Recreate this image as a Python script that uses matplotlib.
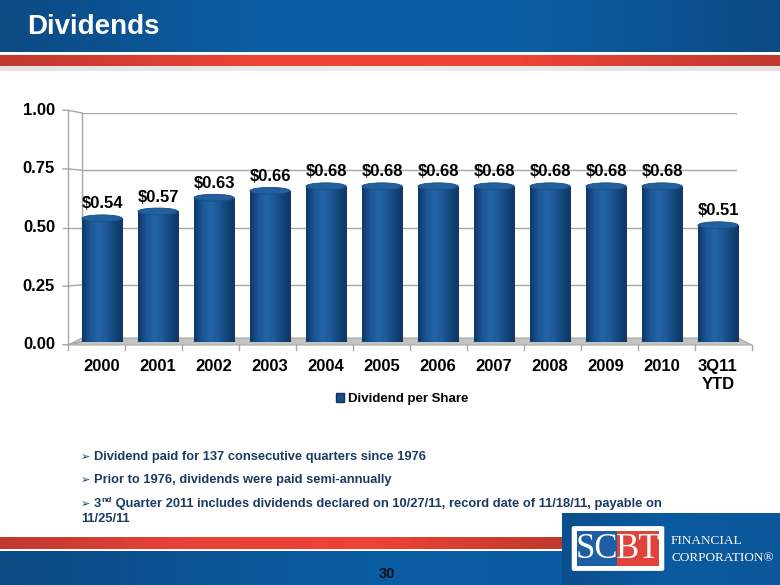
import numpy as np
import matplotlib
matplotlib.use('Agg')
import matplotlib.pyplot as plt
from matplotlib.colors import LinearSegmentedColormap
from matplotlib.patches import Rectangle, Ellipse, Polygon, Patch, FancyBboxPatch
from matplotlib.transforms import blended_transform_factory

# chart data
categories = ['2000', '2001', '2002', '2003', '2004', '2005', '2006',
              '2007', '2008', '2009', '2010', '3Q11\nYTD']
dividends = [0.54, 0.57, 0.63, 0.66, 0.68, 0.68, 0.68, 0.68, 0.68, 0.68, 0.68, 0.51]
y_ticks = [0.0, 0.25, 0.5, 0.75, 1.0]
series_name = 'Dividend per Share'
bullets = ['Dividend paid for 137 consecutive quarters since 1976',
           'Prior to 1976, dividends were paid semi-annually']
last_bullet = ('3', 'nd', ' Quarter 2011 includes dividends declared on 10/27/11, record date of 11/18/11, payable on',
               '11/25/11')

W, H = 780, 585
SANS = ['Liberation Sans', 'DejaVu Sans']
plt.rcParams['font.family'] = SANS


def fx(x):
    return x / W


def fy(y):
    return 1 - y / H


fig = plt.figure(figsize=(7.8, 5.85), dpi=100)
fig.patch.set_facecolor('white')


def band(x0, y0, x1, y1, colors, z=0):
    # horizontal gradient strip in pixel coords (y measured from top)
    a = fig.add_axes([fx(x0), fy(y1), (x1 - x0) / W, (y1 - y0) / H], zorder=z)
    cmap = LinearSegmentedColormap.from_list('b', colors)
    a.imshow(np.linspace(0, 1, 256)[None, :], aspect='auto', cmap=cmap, extent=(0, 1, 0, 1))
    a.set_axis_off()
    return a


# header
band(0, 0, 780, 52, ['#0d4a84', '#0a5ea4', '#0b5fa3', '#0d4a84'])
band(0, 55, 780, 66, ['#c0392f', '#ee4336', '#ee4336', '#c0392f'])
band(0, 66, 780, 71, ['#e2e2e2', '#eeeeee', '#e2e2e2'])
fig.text(fx(27), fy(27), 'Dividends', color='white', fontsize=20, fontweight='bold',
         va='center', ha='left')

# footer
band(0, 537, 562, 549, ['#c0392f', '#e8423a', '#ee4336', '#c0392f'])
band(0, 551, 780, 585, ['#0d4a84', '#0a5ea4', '#0b5aa0'])
band(562, 513, 780, 585, ['#0c4e8c', '#0a5ba0', '#0b5799'], z=2)
fig.text(fx(387), fy(574), '30', color='#111111', fontsize=10.5, fontweight='bold',
         ha='center', va='center', zorder=5)

# logo
fig.patches.append(FancyBboxPatch((fx(574), fy(569)), fx(88), 41 / H, boxstyle='round,pad=0.002',
                                  transform=fig.transFigure, facecolor='white', edgecolor='white', zorder=3))
fig.patches.append(Rectangle((fx(577), fy(566)), fx(40), 35 / H, transform=fig.transFigure,
                             facecolor='#1d5ea6', edgecolor='none', zorder=4))
fig.patches.append(Rectangle((fx(617), fy(566)), fx(42), 35 / H, transform=fig.transFigure,
                             facecolor='#e0433a', edgecolor='none', zorder=4))
fig.text(fx(597), fy(549), 'SC', color='white', fontsize=25, family=['Liberation Serif'],
         ha='center', va='center', zorder=5)
fig.text(fx(638), fy(549), 'BT', color='white', fontsize=25, family=['Liberation Serif'],
         ha='center', va='center', zorder=5)
fig.text(fx(671), fy(541), 'FINANCIAL', color='white', fontsize=9.5, family=['Liberation Serif'],
         ha='left', va='center', zorder=5)
fig.text(fx(671), fy(558), 'CORPORATION®', color='white', fontsize=9.5, family=['Liberation Serif'],
         ha='left', va='center', zorder=5)

# chart area
ax = fig.add_axes([fx(74), fy(342), (746 - 74) / W, (342 - 113) / H], zorder=1)
ax.set_xlim(-0.5, len(categories) - 0.5)
ax.set_ylim(0, 1)
ax.patch.set_alpha(0)
for s in ax.spines.values():
    s.set_visible(False)

# back-wall gridlines
for v in y_ticks[1:]:
    ax.axhline(v, xmin=0.012, xmax=0.985, color='#a6a6a6', lw=1, zorder=0)

# floor and front axis in figure pixels
fig_px = fig.transFigure
floor = Polygon([(fx(68), fy(345)), (fx(82), fy(338)), (fx(738), fy(338)), (fx(752), fy(345))],
                closed=True, transform=fig_px, facecolor='#c4c4c4', edgecolor='#a8a8a8', lw=0.8, zorder=0)
fig.patches.append(floor)
ax.add_line(plt.Line2D([fx(82), fx(82)], [fy(338), fy(113)], transform=fig_px, color='#a6a6a6', lw=1))

bt = blended_transform_factory(fig_px, ax.transData)
ax.add_line(plt.Line2D([fx(68), fx(68)], [-0.012, 1.012], transform=bt, color='#a6a6a6', lw=1, clip_on=False))
for v in y_ticks:
    fv = v * 1.024 - 0.012
    ax.add_line(plt.Line2D([fx(63), fx(68), fx(82)], [fv, fv, v], transform=bt,
                           color='#a6a6a6', lw=1, clip_on=False))
    ax.text(fx(55), fv, f'{v:.2f}', transform=bt, ha='right', va='center',
            fontsize=12, fontweight='bold', color='black')
for i in range(len(categories) + 1):
    x = 68 + i * 57
    ax.add_line(plt.Line2D([fx(x), fx(x)], [fy(345), fy(350)], transform=fig_px,
                           color='#a6a6a6', lw=1, clip_on=False))

# cylinder bars
cmap = LinearSegmentedColormap.from_list('cyl', ['#0d3866', '#1a5595', '#2566a6', '#1d5898', '#134479', '#0d3866'])
bw = 0.73
xs = np.arange(len(categories))
bars = ax.bar(xs, dividends, width=bw, color='#1a5595', zorder=2, linewidth=0)
for b, v in zip(bars, dividends):
    x0 = b.get_x()
    im = ax.imshow(np.linspace(0, 1, 128)[None, :], cmap=cmap, aspect='auto',
                   extent=(x0, x0 + bw, 0, v), zorder=2.5)
    im.set_clip_path(b)
    ax.add_patch(Ellipse((x0 + bw / 2, v), bw * 0.98, 0.03, facecolor='#22609f',
                         edgecolor='#164c86', lw=0.6, zorder=3))
    ax.add_patch(Ellipse((x0 + bw / 2, 0), bw, 0.02, facecolor='#0f3f72', edgecolor='none', zorder=2.4))
    ax.annotate(f'${v:.2f}', (x0 + bw / 2, v), xytext=(0, 5), textcoords='offset points',
                ha='center', va='bottom', fontsize=12, fontweight='bold', color='black', zorder=4)
ax.set_xlim(-0.5, len(categories) - 0.5)
ax.set_ylim(0, 1)

ax.set_yticks([])
ax.set_xticks(xs)
ax.set_xticklabels(categories, fontsize=12, fontweight='bold', linespacing=1.3)
ax.tick_params(axis='x', length=0, pad=12)

fig.legend(handles=[Patch(facecolor='#1a4f87', edgecolor='#0b3461', label=series_name)],
           loc='center', bbox_to_anchor=(fx(402), fy(399)), frameon=False,
           handlelength=0.6, handleheight=0.6, handletextpad=0.3,
           prop={'size': 9.5, 'weight': 'bold'})

# bullet notes
navy = '#1b3a63'
fs = 9.3
for i, t in enumerate(bullets):
    yy = 457 + i * 23.5
    fig.text(fx(81), fy(yy), '➢', color=navy, fontsize=8, family=['DejaVu Sans'], va='center')
    fig.text(fx(94), fy(yy), t, color=navy, fontsize=fs, fontweight='bold', va='center')

yy = 504
fig.text(fx(81), fy(yy), '➢', color=navy, fontsize=8, family=['DejaVu Sans'], va='center')
r = fig.canvas.get_renderer()
t1 = fig.text(fx(94), fy(yy), last_bullet[0], color=navy, fontsize=fs, fontweight='bold', va='center')
e1 = t1.get_window_extent(r)
t2 = fig.text(e1.x1 / fig.bbox.width, fy(yy - 4), last_bullet[1], color=navy, fontsize=6,
              fontweight='bold', va='center')
e2 = t2.get_window_extent(r)
fig.text(e2.x1 / fig.bbox.width, fy(yy), last_bullet[2], color=navy, fontsize=fs, fontweight='bold', va='center')
fig.text(fx(81), fy(519), last_bullet[3], color=navy, fontsize=fs, fontweight='bold', va='center')

fig.savefig('out.png', dpi=100)
